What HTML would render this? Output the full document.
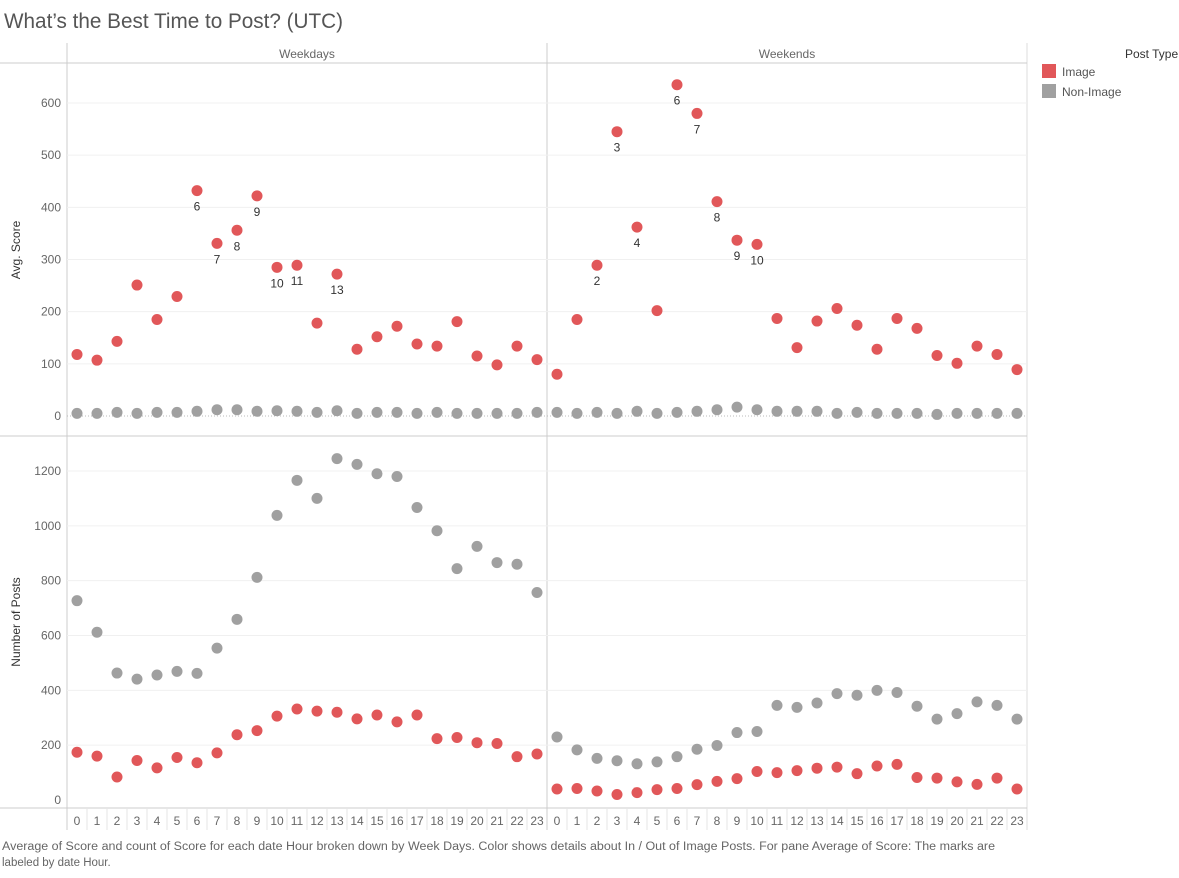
<!DOCTYPE html>
<html><head><meta charset="utf-8"><style>
body{margin:0;background:#fff;font-family:"Liberation Sans",sans-serif;}
svg text{font-family:"Liberation Sans",sans-serif;}
</style></head><body>
<svg id="c" width="1179" height="873" xmlns="http://www.w3.org/2000/svg">
<text x="4" y="28" font-size="21" fill="#555" textLength="339" lengthAdjust="spacingAndGlyphs">What’s the Best Time to Post? (UTC)</text>
<g id="g"></g>
<g>
<text x="1125" y="58" font-size="12" fill="#333">Post Type</text>
<rect x="1042" y="64" width="14" height="14" fill="#e15759"/>
<text x="1062" y="76" font-size="12" fill="#555">Image</text>
<rect x="1042" y="84" width="14" height="14" fill="#a0a0a0"/>
<text x="1062" y="96" font-size="12" fill="#555">Non-Image</text>
</g>
<text x="2" y="850" font-size="11.5" fill="#666" textLength="993" lengthAdjust="spacingAndGlyphs">Average of Score and count of Score for each date Hour broken down by Week Days.  Color shows details about In / Out of Image Posts.  For pane Average of Score:  The marks are</text>
<text x="2" y="866" font-size="11.5" fill="#666">labeled by date Hour.</text>
</svg>
<script>
const hours=[0,1,2,3,4,5,6,7,8,9,10,11,12,13,14,15,16,17,18,19,20,21,22,23];
const scoreTicks=[0,100,200,300,400,500,600];
const countTicks=[0,200,400,600,800,1000,1200];
const wdImgScore=[118,107,143,251,185,229,432,331,356,422,285,289,178,272,128,152,172,138,134,181,115,98,134,108];
const wdNonScore=[5,5,7,5,7,7,9,12,12,9,10,9,7,10,5,7,7,5,7,5,5,5,5,7];
const weImgScore=[80,185,289,545,362,202,635,580,411,337,329,187,131,182,206,174,128,187,168,116,101,134,118,89];
const weNonScore=[7,5,7,5,9,5,7,9,12,17,12,9,9,9,5,7,5,5,5,3,5,5,5,5];
const wdNonCount=[727,612,463,441,456,469,462,554,659,812,1038,1166,1100,1245,1224,1190,1180,1067,982,844,925,866,860,757];
const wdImgCount=[174,160,84,144,117,155,136,172,238,253,306,332,324,320,296,310,285,310,224,228,209,206,158,168];
const weNonCount=[230,183,152,143,132,139,158,185,199,246,250,345,338,354,388,382,400,392,342,295,315,358,345,295];
const weImgCount=[40,42,33,20,27,38,42,56,68,78,104,100,107,116,120,96,124,130,82,80,66,57,80,40];
const wdLabels=[6,7,8,9,10,11,13];
const weLabels=[2,3,4,6,7,8,9,10];
const NS="http://www.w3.org/2000/svg",G=document.getElementById('g');
function mk(t,a,p){const e=document.createElementNS(NS,t);for(const k in a)e.setAttribute(k,a[k]);(p||G).appendChild(e);return e;}
const yS=v=>416-v*313/600, yC=v=>800-v*329/1200;
const xH=(pane,h)=>(pane?557:77)+h*20;
let e;
e=mk('line',{x1:67,y1:43,x2:67,y2:830,stroke:'#ccc'});
e=mk('line',{x1:547,y1:43,x2:547,y2:830,stroke:'#ccc'});
e=mk('line',{x1:1027,y1:43,x2:1027,y2:830,stroke:'#ddd'});
e=mk('line',{x1:0,y1:63,x2:1027,y2:63,stroke:'#ccc'});
e=mk('line',{x1:0,y1:436,x2:1027,y2:436,stroke:'#ccc'});
e=mk('line',{x1:0,y1:808,x2:1027,y2:808,stroke:'#ccc'});
e=mk('text',{x:307,y:58,'font-size':12,fill:'#666','text-anchor':'middle'});e.textContent='Weekdays';
e=mk('text',{x:787,y:58,'font-size':12,fill:'#666','text-anchor':'middle'});e.textContent='Weekends';
e=mk('text',{x:20,y:250,'font-size':12,fill:'#333','text-anchor':'middle',transform:'rotate(-90 20 250)'});e.textContent='Avg. Score';
e=mk('text',{x:20,y:622,'font-size':12,fill:'#333','text-anchor':'middle',transform:'rotate(-90 20 622)'});e.textContent='Number of Posts';
scoreTicks.forEach(t=>{const y=yS(t);
 if(t>0){e=mk('line',{x1:67,y1:y,x2:1027,y2:y,stroke:'#f0f0f0'});}
 e=mk('text',{x:61,y:y+4,'font-size':12,fill:'#666','text-anchor':'end'});e.textContent=t;});
e=mk('line',{x1:67,y1:yS(0),x2:1027,y2:yS(0),stroke:'#bbb','stroke-dasharray':'1 2'});
countTicks.forEach(t=>{const y=yC(t);
 if(t>0){e=mk('line',{x1:67,y1:y,x2:1027,y2:y,stroke:'#f0f0f0'});}
 e=mk('text',{x:61,y:y+4,'font-size':12,fill:'#666','text-anchor':'end'});e.textContent=t;});
[0,1].forEach(p=>hours.forEach(h=>{const x=xH(p,h);
 e=mk('text',{x:x,y:825,'font-size':12,fill:'#666','text-anchor':'middle'});e.textContent=h;
 if(h>0){e=mk('line',{x1:x-10,y1:808,x2:x-10,y2:830,stroke:'#e6e6e6'});}}));
function dots(arr,p,ys,col,name){arr.forEach((v,h)=>{e=mk('circle',{cx:xH(p,h),cy:ys(v),r:5.5,fill:col});});}
dots(wdNonScore,0,yS,'#a0a0a0','point-weekday-nonimage-score');
dots(weNonScore,1,yS,'#a0a0a0','point-weekend-nonimage-score');
dots(wdImgScore,0,yS,'#e15759','point-weekday-image-score');
dots(weImgScore,1,yS,'#e15759','point-weekend-image-score');
dots(wdNonCount,0,yC,'#a0a0a0','point-weekday-nonimage-count');
dots(weNonCount,1,yC,'#a0a0a0','point-weekend-nonimage-count');
dots(wdImgCount,0,yC,'#e15759','point-weekday-image-count');
dots(weImgCount,1,yC,'#e15759','point-weekend-image-count');
function labs(list,p,arr){list.forEach(h=>{e=mk('text',{x:xH(p,h),y:yS(arr[h])+20,'font-size':12,fill:'#333','text-anchor':'middle'});e.textContent=h;});}
labs(wdLabels,0,wdImgScore);labs(weLabels,1,weImgScore);
</script>
</body></html>
